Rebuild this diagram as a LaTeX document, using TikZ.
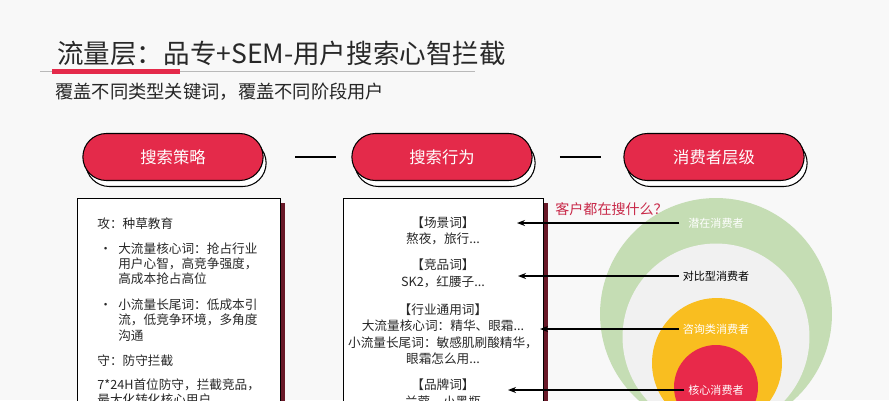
\documentclass[tikz,border=0pt]{standalone}
\usepackage{fontspec}
\setmainfont{Noto Sans CJK SC}
\usetikzlibrary{arrows.meta, shadows, shapes.misc, calc}

\definecolor{pillred}{RGB}{228,42,74}
\definecolor{shadowred}{RGB}{105,25,40}
\definecolor{askred}{RGB}{200,40,72}
\definecolor{bggray}{RGB}{248,248,248}
\definecolor{ringgreen}{RGB}{197,221,180}
\definecolor{ringgray}{RGB}{241,241,241}
\definecolor{ringorange}{RGB}{249,190,32}
\definecolor{ringred}{RGB}{232,41,74}
\definecolor{inkgray}{RGB}{40,40,40}

\begin{document}
\begin{tikzpicture}[x=0.02cm, y=-0.02cm,
  pill/.style={rounded rectangle, draw=black, line width=0.6pt, fill=pillred, minimum width=3.84cm, minimum height=0.94cm, text=white, font=\fontsize{9.3}{11}\selectfont, general shadow={fill=white, draw=black, line width=0.6pt, shadow xshift=0.06cm, shadow yshift=-0.12cm}},
  box/.style={draw=black, line width=0.7pt, fill=white, minimum height=4.8cm, anchor=north west, inner sep=0pt, general shadow={fill=shadowred, shadow xshift=0.08cm, shadow yshift=-0.08cm}},
  boxtext/.style={inner sep=0pt, text=inkgray, font=\fontsize{7.2}{8.8}\selectfont},
  ring/.style={circle, draw=none, inner sep=0pt},
  ringlabel/.style={inner sep=2pt, font=\fontsize{6.3}{7.5}\selectfont},
  link/.style={line width=1.1pt, -{Stealth[length=0.16cm, width=0.12cm]}},
  dashline/.style={line width=1.4pt}
]
\useasboundingbox (0,0) rectangle (889,400);
\clip (0,0) rectangle (889,400);
\fill[bggray] (0,0) rectangle (889,400);

% Title
\node[anchor=west, inner sep=0pt, text=inkgray, font=\fontsize{15.1}{17}\selectfont] (title) at (57,53) {流量层：品专+SEM-用户搜索心智拦截};
\draw[gray!55, line width=0.5pt] (40,71) -- (475,71);
\fill[pillred] (52,68.5) rectangle (180,73.5);
\node[anchor=west, inner sep=0pt, text=black!85, font=\fontsize{10.4}{12}\selectfont] (subtitle) at (55,92) {覆盖不同类型关键词，覆盖不同阶段用户};

% Headers
\node[pill] (strategy) at (173,157) {搜索策略};
\node[pill] (behavior) at (442,157) {搜索行为};
\node[pill] (levels) at (714,157) {消费者层级};
\draw[dashline] ($(strategy.east)!0.36!(behavior.west)$) -- ($(strategy.east)!0.82!(behavior.west)$);
\draw[dashline] ($(behavior.east)!0.3!(levels.west)$) -- ($(behavior.east)!0.75!(levels.west)$);

% Boxes
\node[box, minimum width=4.06cm] (stratbox) at (77,198) {};
\node[box, minimum width=4.0cm] (behavbox) at (343,198) {};

\node[boxtext, anchor=north west, align=left] (strattext) at (97,217) {攻：种草教育\\[0.19cm]
\makebox[0.42cm][l]{\hspace{0.04cm}•}大流量核心词：抢占行业\\
\hspace*{0.42cm}用户心智，高竞争强度，\\
\hspace*{0.42cm}高成本抢占高位\\[0.2cm]
\makebox[0.42cm][l]{\hspace{0.04cm}•}小流量长尾词：低成本引\\
\hspace*{0.42cm}流，低竞争环境，多角度\\
\hspace*{0.42cm}沟通\\[0.19cm]
守：防守拦截\\[0.17cm]
7*24H首位防守，拦截竞品，\\
最大化转化核心用户};

\node[boxtext, anchor=north, align=center, font=\fontsize{7.2}{9.3}\selectfont] (behavtext) at (443,216) {【场景词】\\
熬夜，旅行...\\[0.2cm]
【竞品词】\\
SK2，红腰子...\\[0.24cm]
【行业通用词】\\
大流量核心词：精华、眼霜...\\
小流量长尾词：敏感肌刷酸精华，\\
眼霜怎么用...\\[0.2cm]
【品牌词】\\
兰蔻，小黑瓶};

% Rings
\node[ring, fill=ringgreen, minimum size=4.64cm] (potential) at (716,314) {};
\node[ring, fill=ringgray, minimum size=3.74cm] (compare) at (716,337) {};
\node[ring, fill=ringorange, minimum size=2.6cm] (consult) at (717,363) {};
\node[ring, fill=ringred, minimum size=1.68cm] (core) at (716,387) {};

\node[ringlabel, text=white] (l1) at (716,223) {潜在消费者};
\node[ringlabel, text=black] (l2) at (716,276) {对比型消费者};
\node[ringlabel, text=white] (l3) at (716,329) {咨询类消费者};
\node[ringlabel, text=white] (l4) at (716,390) {核心消费者};

\node[anchor=west, inner sep=0pt, text=askred, font=\fontsize{8}{10}\selectfont] (ask) at (555,209) {客户都在搜什么？};

% Arrows
\coordinate (t1) at (517,223);
\coordinate (t2) at (518,276);
\coordinate (t3) at (540,329);
\coordinate (t4) at (508,390);
\draw[link] ([xshift=-0.1cm]l1.west) -- (t1);
\draw[link] (l2.west) -- (t2);
\draw[link] (l3.west) -- (t3);
\draw[link] (l4.west) -- (t4);

\end{tikzpicture}
\end{document}
